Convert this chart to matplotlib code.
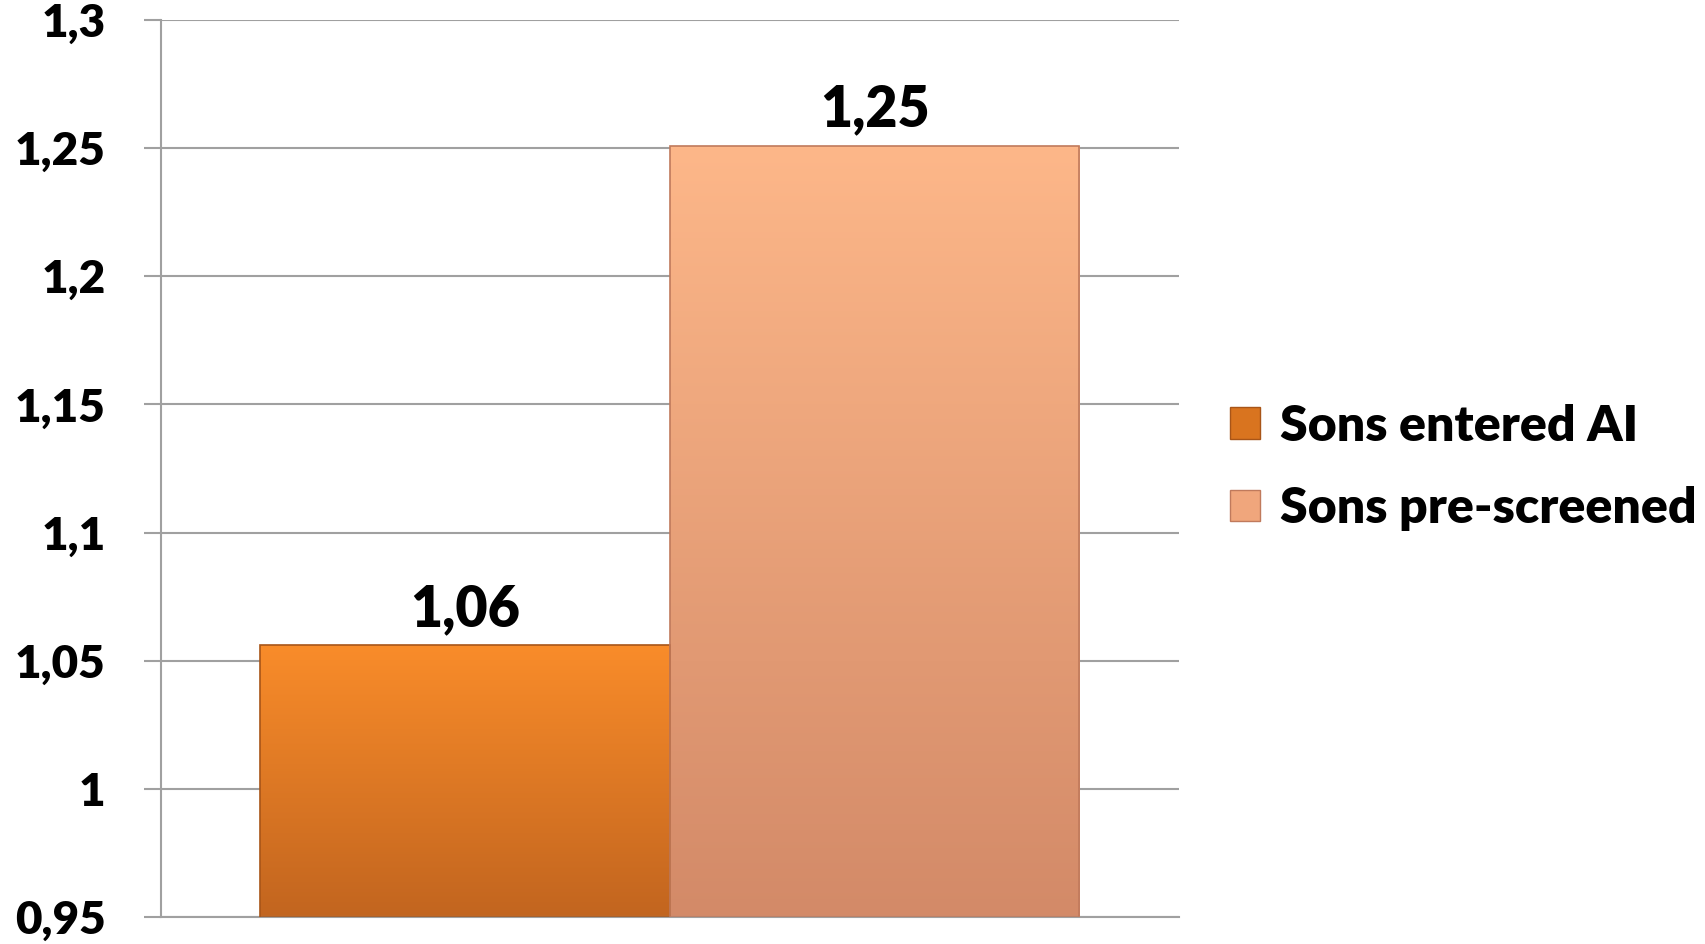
import numpy as np
import matplotlib
matplotlib.use("Agg")
from matplotlib import pyplot as plt
from matplotlib.colors import LinearSegmentedColormap
from matplotlib.patches import Patch

series = ["Sons entered AI", "Sons pre-screened"]
values = [1.056, 1.251]
value_labels = ["1,06", "1,25"]
yticks = [0.95, 1.0, 1.05, 1.1, 1.15, 1.2, 1.25, 1.3]
ytick_labels = ["0,95", "1", "1,05", "1,1", "1,15", "1,2", "1,25", "1,3"]
top_colors = ["#F98C2A", "#FDB789"]
bottom_colors = ["#C2651F", "#D38A68"]
edge_colors = ["#A85518", "#C07A5C"]

plt.rcParams['font.family'] = ['Lato', 'DejaVu Sans']
plt.rcParams['font.weight'] = 'heavy'

fig = plt.figure(figsize=(17.05, 9.44), dpi=100)
ax = fig.add_axes([0.0944, 0.0286, 0.597, 0.9502])

x = np.arange(len(values))
bars = ax.bar(x, np.array(values) - 0.95, bottom=0.95, width=1.0,
              color="none", edgecolor=edge_colors, linewidth=1.2, zorder=3)

# vertical gradient fill for each bar, clipped to its rectangle
for bar, c_top, c_bot in zip(bars, top_colors, bottom_colors):
    cmap = LinearSegmentedColormap.from_list("g", [c_bot, c_top])
    grad = np.linspace(0, 1, 256).reshape(-1, 1)
    x0, y0 = bar.get_x(), bar.get_y()
    im = ax.imshow(grad, cmap=cmap, origin="lower", aspect="auto",
                   extent=[x0, x0 + bar.get_width(), y0, y0 + bar.get_height()],
                   zorder=2)
    im.set_clip_path(bar)

for xi, v, lab in zip(x, values, value_labels):
    ax.text(xi, v + 0.004, lab, ha="center", va="bottom",
            fontsize=40, fontweight="heavy", color="black")

ax.set_xlim(-0.743, 1.743)
ax.set_ylim(0.95, 1.3)
ax.set_yticks(yticks)
ax.set_yticklabels(ytick_labels)
ax.set_xticks([])
ax.yaxis.grid(True, color="#A0A0A0", linewidth=1.5, zorder=0)
ax.set_axisbelow(True)
ax.tick_params(axis='y', length=12, width=1.5, color="#A0A0A0", pad=28,
               labelsize=33)
for lab in ax.get_yticklabels():
    lab.set_fontweight("heavy")
for side in ["top", "right"]:
    ax.spines[side].set_visible(False)
ax.spines["left"].set_color("#A0A0A0")
ax.spines["left"].set_linewidth(1.5)
ax.spines["bottom"].set_color("#A0A0A0")
ax.spines["bottom"].set_linewidth(1.5)

handles = [Patch(facecolor=c, edgecolor=e, linewidth=1.0)
           for c, e in zip(["#D9741F", "#F0A67C"], edge_colors)]
fig.legend(handles, series, loc="center left", bbox_to_anchor=(0.695, 0.505),
           frameon=False, handlelength=0.6, handleheight=0.6,
           handletextpad=0.4, labelspacing=0.75,
           prop={'weight': 'heavy', 'size': 36})

fig.savefig("out.png", dpi=100)
